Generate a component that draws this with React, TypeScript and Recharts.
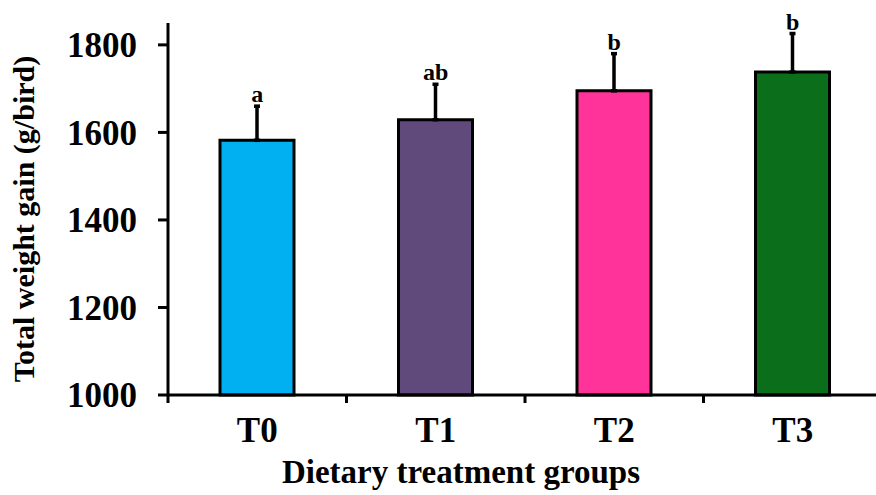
import React from 'react'
import { ComposedChart, Bar, Line, XAxis, YAxis, ErrorBar, Cell, LabelList } from 'recharts'

const groups = ['T0', 'T1', 'T2', 'T3']
const meanGain = [1582, 1629, 1695, 1738]
const sdGain = [78, 81, 85, 88]
const letters = ['a', 'ab', 'b', 'b']
const barColors = ['#00B0F0', '#604A7B', '#FF3399', '#0B6E1B']
const yTicks = [1000, 1200, 1400, 1600, 1800]

const data = groups.map((g, i) => ({
  group: g,
  gain: meanGain[i],
  err: [0, sdGain[i]],
  top: meanGain[i] + sdGain[i],
  sig: letters[i],
}))

const font = '"Liberation Serif", "Times New Roman", serif'
const X_TICK_SIZE = 8
const X_TICK_MARGIN = 14

// category tick: label at the band centre, tick mark on the band boundary (Excel style)
const XTick = (props: any) => {
  const { x, y, payload } = props
  const half = payload.offset ?? 89
  const axisY = y - X_TICK_SIZE - X_TICK_MARGIN
  return (
    <g>
      <line x1={x - half} x2={x - half} y1={axisY} y2={axisY + X_TICK_SIZE} stroke="#000" strokeWidth={3} />
      <text x={x} y={y} dy="0.71em" textAnchor="middle" fontSize={35} fontWeight={700} fontFamily={font} fill="#000">
        {payload.value}
      </text>
    </g>
  )
}

export default function App() {
  return (
    <div style={{ position: 'absolute', left: 0, top: 0, width: 876, height: 495, overflow: 'hidden', background: '#fff' }}>
      <ComposedChart width={890} height={495} data={data} margin={{ top: 23, right: 8, left: 0, bottom: 0 }}>
        <XAxis
          dataKey="group"
          height={100}
          axisLine={{ stroke: '#000', strokeWidth: 3 }}
          tickLine={false}
          tickSize={X_TICK_SIZE}
          tickMargin={X_TICK_MARGIN}
          tick={<XTick />}
          interval={0}
          label={{
            value: 'Dietary treatment groups',
            position: 'insideBottom',
            offset: 12,
            dx: -64,
            style: { fontSize: 33, fontWeight: 700, fontFamily: font, fill: '#000' },
          }}
        />
        <YAxis
          width={168}
          domain={[1000, 1850]}
          ticks={yTicks}
          axisLine={{ stroke: '#000', strokeWidth: 3 }}
          tickLine={{ stroke: '#000', strokeWidth: 3 }}
          tickSize={10}
          tickMargin={21}
          tick={{ fontSize: 35, fontWeight: 700, fontFamily: font, fill: '#000' }}
          label={{
            value: 'Total weight gain (g/bird)',
            angle: -90,
            position: 'center',
            dx: -61,
            dy: 10,
            style: { fontSize: 30, fontWeight: 700, fontFamily: font, fill: '#000', textAnchor: 'middle' },
          }}
        />
        <Bar dataKey="gain" barSize={74} stroke="#000" strokeWidth={3} isAnimationActive={false}>
          {data.map((d, i) => (
            <Cell key={d.group} fill={barColors[i]} />
          ))}
          <ErrorBar dataKey="err" width={3} stroke="#000" strokeWidth={3.5} direction="y" />
        </Bar>
        <Line dataKey="top" stroke="none" dot={false} activeDot={false} isAnimationActive={false}>
          <LabelList
            dataKey="sig"
            position="top"
            offset={4}
            style={{ fontSize: 24, fontWeight: 700, fontFamily: font, fill: '#000' }}
          />
        </Line>
      </ComposedChart>
    </div>
  )
}
